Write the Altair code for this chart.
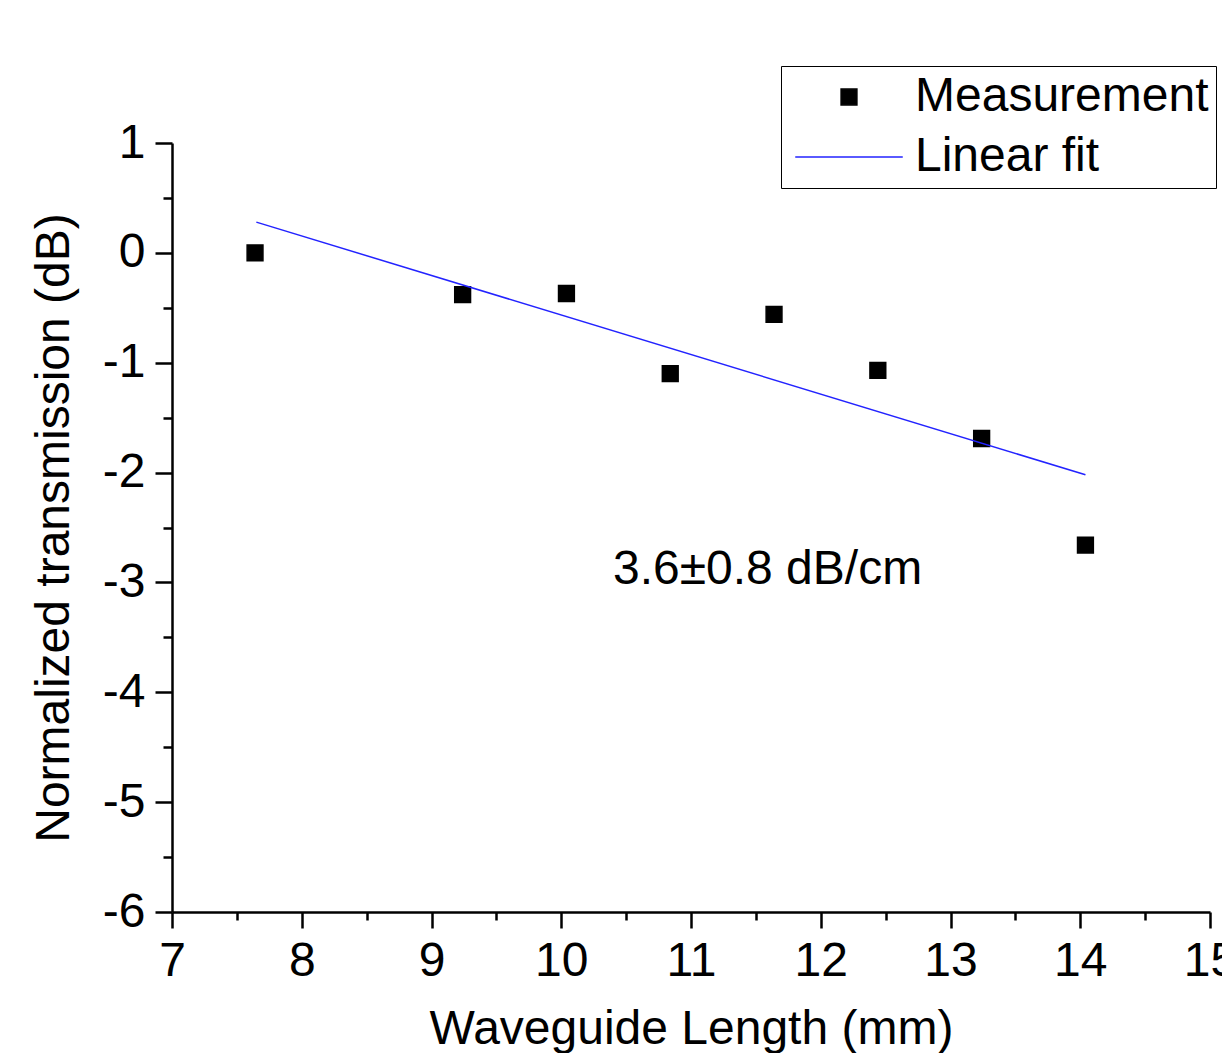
import altair as alt
import pandas as pd

# Measured data (waveguide length in mm, normalized transmission in dB)
meas_x = [7.64, 9.24, 10.04, 10.84, 11.64, 12.44, 13.24, 14.04]
meas_y = [0.00, -0.38, -0.37, -1.10, -0.56, -1.07, -1.69, -2.66]

# Linear fit end points
fit_x = [7.65, 14.04]
fit_y = [0.28, -2.02]

series = ["Measurement", "Linear fit"]
annot_text = ["3.6±0.8 dB/cm"]
annot_x = [11.59]
annot_y = [-2.89]

x_major = [7, 8, 9, 10, 11, 12, 13, 14, 15]
x_minor = [7.5, 8.5, 9.5, 10.5, 11.5, 12.5, 13.5, 14.5]
y_major = [1, 0, -1, -2, -3, -4, -5, -6]
y_minor = [0.5, -0.5, -1.5, -2.5, -3.5, -4.5, -5.5]

FONT = "Liberation Sans"
FS = 48

df_meas = pd.DataFrame({"x": meas_x, "y": meas_y, "series": series[0]})
df_fit = pd.DataFrame({"x": fit_x, "y": fit_y, "series": series[1]})
df_text = pd.DataFrame({"x": annot_x, "y": annot_y, "t": annot_text})

xscale = alt.Scale(domain=[7, 15], nice=False, zero=False)
yscale = alt.Scale(domain=[-6, 1], nice=False, zero=False)

common_axis = dict(
    grid=False,
    domainColor="black",
    domainWidth=2.5,
    tickColor="black",
    tickWidth=2.5,
    labelColor="black",
    labelFont=FONT,
    labelFontSize=FS,
    labelOverlap=False,
    labelFlush=False,
    titleFont=FONT,
    titleFontSize=FS,
    titleFontWeight="normal",
    titleColor="black",
)

x_axis = alt.Axis(
    orient="bottom",
    values=x_major,
    tickSize=16,
    format="d",
    labelExpr="replace(datum.label, '\u2212', '-')",
    labelPadding=9,
    title="Waveguide Length (mm)",
    titlePadding=20,
    **common_axis,
)
y_axis = alt.Axis(
    orient="left",
    values=y_major,
    tickSize=17,
    format="d",
    labelExpr="replace(datum.label, '\u2212', '-')",
    labelPadding=10,
    title="Normalized transmission (dB)",
    titlePadding=24,
    **common_axis,
)
x_axis_minor = alt.Axis(
    orient="bottom", values=x_minor, tickSize=8, tickWidth=2.5, tickColor="black",
    labels=False, domain=False, grid=False, title=None,
)
y_axis_minor = alt.Axis(
    orient="left", values=y_minor, tickSize=9, tickWidth=2.5, tickColor="black",
    labels=False, domain=False, grid=False, title=None,
)

legend = alt.Legend(
    title=None,
    orient="none",
    legendX=609,
    legendY=-77,
    direction="vertical",
    padding=7,
    strokeColor="black",
    fillColor="white",
    cornerRadius=0,
    labelFont=FONT,
    labelFontSize=FS,
    labelColor="black",
    labelLimit=0,
    labelOffset=42,
    symbolOffset=37,
    symbolSize=250,
    symbolStrokeWidth=1.5,
    rowPadding=12,
)

points = alt.Chart(df_meas).mark_point(filled=True, size=250, opacity=1, strokeWidth=1.5).encode(
    x=alt.X("x:Q", scale=xscale, axis=x_axis),
    y=alt.Y("y:Q", scale=yscale, axis=y_axis),
    shape=alt.Shape("series:N", scale=alt.Scale(domain=series, range=["square", "M-6.8,0H6.8"]), legend=legend),
    fill=alt.Fill("series:N", scale=alt.Scale(domain=series, range=["black", "#2323ff"]), legend=legend),
    stroke=alt.Stroke("series:N", scale=alt.Scale(domain=series, range=["black", "#2323ff"]), legend=legend),
)

line = alt.Chart(df_fit).mark_line(color="#2323ff", strokeWidth=1.5).encode(
    x=alt.X("x:Q", scale=xscale, axis=x_axis_minor),
    y=alt.Y("y:Q", scale=yscale, axis=y_axis_minor),
)

text = alt.Chart(df_text).mark_text(
    font=FONT, fontSize=FS, color="black", align="center", baseline="middle"
).encode(
    x=alt.X("x:Q", scale=xscale, axis=None),
    y=alt.Y("y:Q", scale=yscale, axis=None),
    text="t:N",
)

chart = (
    alt.layer(points, line, text)
    .resolve_axis(x="independent", y="independent")
    .properties(
        width=1038,
        height=769,
        background="white",
        autosize=alt.AutoSizeParams(type="none"),
        padding={"left": 164, "top": 135, "right": 12, "bottom": 141},
    )
    .configure_view(strokeWidth=0, stroke=None)
)

chart.save("out.html", embed_options={"renderer": "svg", "actions": False})
